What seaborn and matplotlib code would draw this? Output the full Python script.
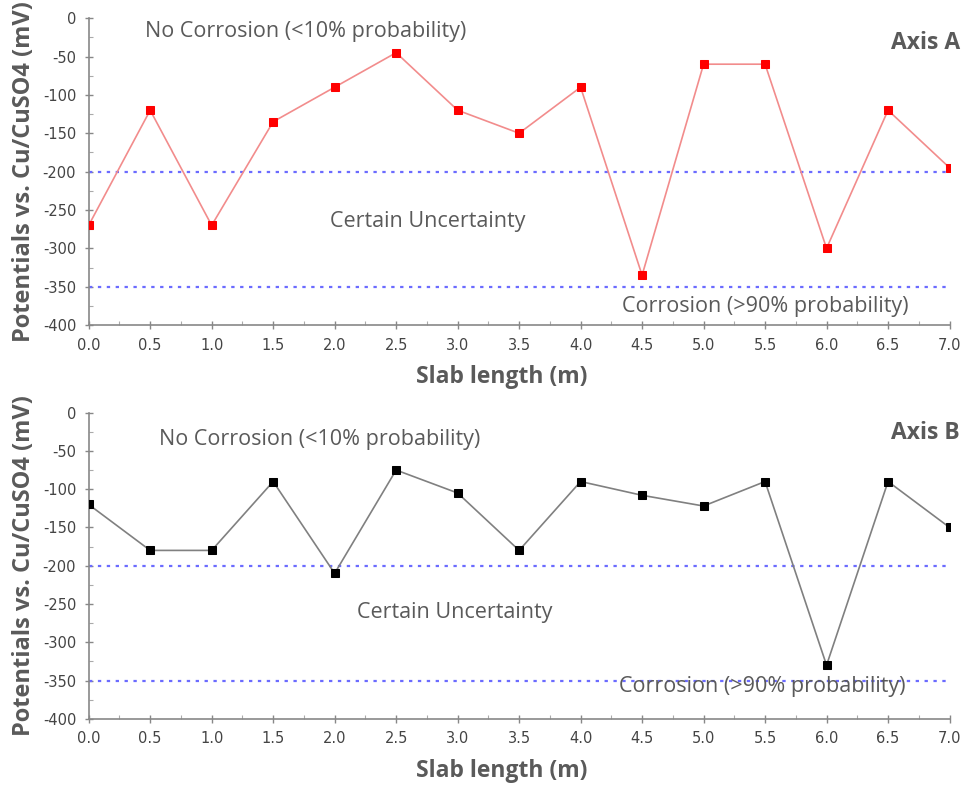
import matplotlib
matplotlib.use('Agg')
import matplotlib.pyplot as plt
from matplotlib.ticker import MultipleLocator, FormatStrFormatter
import seaborn as sns
import pandas as pd

# veriler
slab_length = [0.0, 0.5, 1.0, 1.5, 2.0, 2.5, 3.0, 3.5, 4.0, 4.5, 5.0, 5.5, 6.0, 6.5, 7.0]
axis_a = [-270, -120, -270, -135, -90, -45, -120, -150, -90, -335, -60, -60, -300, -120, -195]
axis_b = [-120, -180, -180, -90, -210, -75, -105, -180, -90, -108, -122, -90, -330, -90, -150]
thresholds = [-200, -350]
zone_labels = ["No Corrosion (<10% probability)", "Certain Uncertainty", "Corrosion (>90% probability)"]

sns.set_style('ticks')
plt.rcParams['font.family'] = ['Open Sans', 'DejaVu Sans']
plt.rcParams['axes.unicode_minus'] = False

TEXT_GREY = '#5a5a5a'

fig = plt.figure(figsize=(9.64, 7.89), dpi=100)
ax_a = fig.add_axes([0.092, 0.588, 0.893, 0.389])
ax_b = fig.add_axes([0.092, 0.089, 0.893, 0.388])

panels = [
    (ax_a, axis_a, '#f28c8c', 'red', 'Axis A',
     [(1.76, -17), (2.76, -265), (5.5, -376)], -33),
    (ax_b, axis_b, '#808080', 'black', 'Axis B',
     [(1.88, -35), (2.98, -261), (5.48, -358)], -26),
]

for ax, values, line_col, mark_col, name, label_pos, name_y in panels:
    df = pd.DataFrame({'x': slab_length, 'y': values})
    for t in thresholds:
        ax.axhline(t, color='#6b6bff', lw=1.6, ls=(0, (1.5, 2.5)), zorder=1)
    sns.lineplot(data=df, x='x', y='y', ax=ax, color=line_col, lw=1.2,
                 marker='s', markersize=5.5, markerfacecolor=mark_col,
                 markeredgecolor=mark_col, zorder=3)

    for txt, (tx, ty) in zip(zone_labels, label_pos):
        ax.text(tx, ty, txt, ha='center', va='center', fontsize=15.5, color=TEXT_GREY)
    ax.text(1.012, name_y, name, transform=ax.get_yaxis_transform(), ha='right',
            va='center', fontsize=16.5, fontweight='bold', color=TEXT_GREY)

    ax.set_xlim(0, 7.0)
    ax.set_ylim(-400, 0)
    ax.xaxis.set_major_locator(MultipleLocator(0.5))
    ax.xaxis.set_minor_locator(MultipleLocator(0.25))
    ax.yaxis.set_major_locator(MultipleLocator(50))
    ax.yaxis.set_minor_locator(MultipleLocator(25))
    ax.xaxis.set_major_formatter(FormatStrFormatter('%.1f'))
    ax.tick_params(which='major', direction='inout', length=6, width=1, color='#888888',
                   labelsize=10.5, labelcolor='#444444', pad=6)
    ax.tick_params(which='minor', direction='in', length=3, width=0.8, color='#aaaaaa')
    for tl in ax.get_xticklabels() + ax.get_yticklabels():
        tl.set_family(['DejaVu Sans'])

    sns.despine(ax=ax)
    for sp in ['left', 'bottom']:
        ax.spines[sp].set_color('#888888')
        ax.spines[sp].set_linewidth(1.2)

    ax.set_xlabel('Slab length (m)', fontsize=16.5, fontweight='bold', color=TEXT_GREY, labelpad=8)
    ax.xaxis.set_label_coords(0.48, -0.13)
    ax.set_ylabel('Potentials vs. Cu/CuSO4 (mV)', fontsize=17, fontweight='bold', color=TEXT_GREY, labelpad=5)

fig.savefig('out.png', dpi=100, facecolor='white')
